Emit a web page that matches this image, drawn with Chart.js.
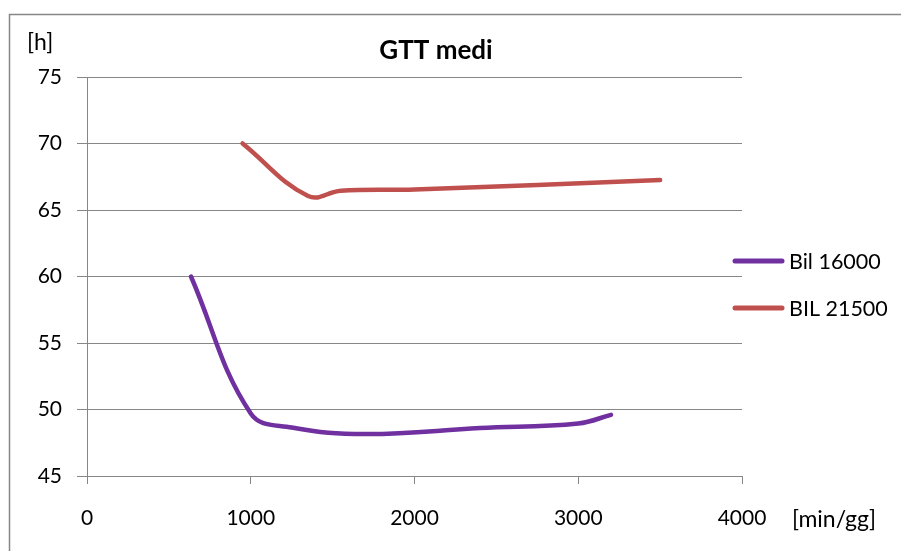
<!DOCTYPE html>
<html>
<head>
<meta charset="utf-8">
<script src="https://cdn.jsdelivr.net/npm/chart.js@4"></script>
<style>
  body{margin:0;background:#fff;}
  #wrap{width:901px;height:551px;position:relative;}
</style>
</head>
<body>
<div id="wrap"><canvas id="gttChart"></canvas></div>
<script>
// series data
let seriesNames=['Bil 16000','BIL 21500'];
let bil16X=[635,1000,1250,1700,2400,3000,3200];
let bil16Y=[60,49.7,48.65,48.15,48.6,48.95,49.6];
let bil21X=[950,1350,1550,2000,3500];
let bil21Y=[70,66.05,66.45,66.55,67.25];
let lineColors=['#7030A0','#C0504D'];
let titleText='GTT medi';
let yUnit='[h]';
let xUnit='[min/gg]';

function toPoints(xs,ys){
    let pts=[];
    for(let i=0;i<xs.length;++i){
        pts.push({x:xs[i],y:ys[i]});
    }
    return pts;
}

let gridGray='#878787';
let font='Lato, "Open Sans", sans-serif';

// frame, title, unit labels and legend
let extras={
    id:'extras',
    beforeDraw(chart){
        let ctx=chart.ctx;
        ctx.save();
        ctx.fillStyle='#fff';
        ctx.fillRect(0,0,chart.width,chart.height);
        ctx.strokeStyle=gridGray;
        ctx.lineWidth=1.5;
        ctx.strokeRect(9.5,14.5,1000,1000);
        ctx.restore();
    },
    afterDraw(chart){
        let ctx=chart.ctx;
        ctx.save();
        ctx.fillStyle='#000';
        ctx.textBaseline='middle';
        ctx.font='bold 26px '+font;
        ctx.textAlign='center';
        ctx.fillText(titleText,436,51);
        ctx.font='23px '+font;
        ctx.textAlign='left';
        ctx.fillText(yUnit,27,43);
        ctx.fillText(xUnit,792,520);
        // legend
        let ys=[261,308];
        ctx.font='21.5px '+font;
        for(let i=0;i<seriesNames.length;++i){
            ctx.strokeStyle=lineColors[i];
            ctx.lineWidth=5;
            ctx.lineCap='round';
            ctx.beginPath();
            ctx.moveTo(735,ys[i]);
            ctx.lineTo(782,ys[i]);
            ctx.stroke();
            ctx.fillStyle='#000';
            ctx.fillText(seriesNames[i],789,ys[i]+1);
        }
        ctx.restore();
    }
};

new Chart('gttChart',{
    type:'line',
    data:{
        datasets:[{
            label:seriesNames[0],
            data:toPoints(bil16X,bil16Y),
            borderColor:lineColors[0],
            backgroundColor:lineColors[0],
            borderWidth:4.5,
            borderCapStyle:'round',
            pointRadius:0,
            tension:0.4
        },{
            label:seriesNames[1],
            data:toPoints(bil21X,bil21Y),
            borderColor:lineColors[1],
            backgroundColor:lineColors[1],
            borderWidth:4.5,
            borderCapStyle:'round',
            pointRadius:0,
            tension:0.4
        }]
    },
    options:{
        responsive:true,
        maintainAspectRatio:false,
        animation:false,
        layout:{padding:{top:77,right:159,left:0,bottom:0}},
        plugins:{
            legend:{display:false},
            title:{display:false},
            tooltip:{enabled:false}
        },
        scales:{
            x:{
                type:'linear',
                min:0,max:4000,
                ticks:{stepSize:1000,color:'#000',font:{family:font,size:21},padding:22,maxRotation:0,
                    callback:function(v){return String(v);}},
                grid:{drawOnChartArea:false,drawTicks:true,tickLength:8,color:gridGray},
                border:{color:gridGray,width:1},
                afterFit(scale){scale.height=75;}
            },
            y:{
                min:45,max:75,
                ticks:{stepSize:5,color:'#000',font:{family:font,size:21},padding:15},
                grid:{color:gridGray,tickLength:10},
                border:{color:gridGray,width:1},
                afterFit(scale){scale.width=87;}
            }
        }
    },
    plugins:[extras]
});
</script>
</body>
</html>
